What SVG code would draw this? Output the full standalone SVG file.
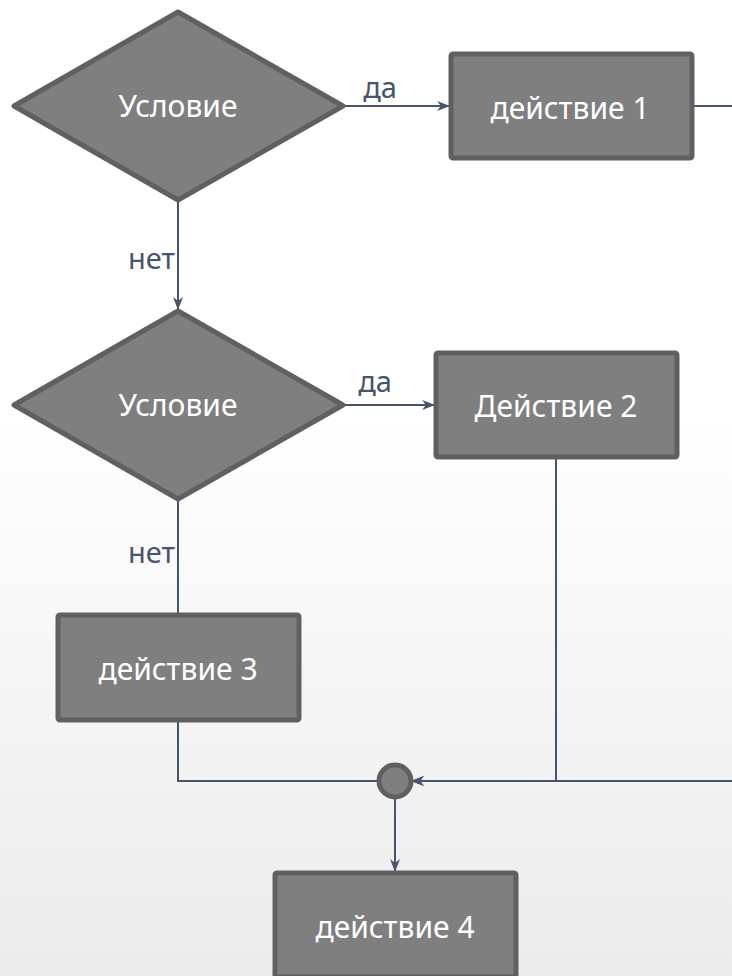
<svg xmlns="http://www.w3.org/2000/svg" width="732" height="976" viewBox="0 0 732 976">
<defs>
<linearGradient id="bg" x1="0" y1="0" x2="0" y2="1">
<stop offset="0" stop-color="#ffffff"/>
<stop offset="0.42" stop-color="#ffffff"/>
<stop offset="1" stop-color="#ebebeb"/>
</linearGradient>
<marker id="arr" viewBox="0 0 13 10" refX="12" refY="5" markerWidth="13" markerHeight="10" markerUnits="userSpaceOnUse" orient="auto">
<path d="M0,0 L13,5 L0,10 L4,5 Z" fill="#46556b"/>
</marker>
<style>
.shape{fill:#7f7f7f;stroke:#606060;stroke-width:5;stroke-linejoin:round}
.txt{font-family:"Noto Sans","Open Sans","DejaVu Sans",sans-serif;font-size:30px;fill:#ffffff;text-anchor:middle}
.lbl{font-family:"Noto Sans","Open Sans","DejaVu Sans",sans-serif;font-size:29px;fill:#46556b}
.con{fill:none;stroke:#46556b;stroke-width:2}
</style>
</defs>
<rect x="0" y="0" width="732" height="976" fill="url(#bg)"/>
<g id="connectors">
<path class="con" d="M345,106 H449" marker-end="url(#arr)"/>
<path class="con" d="M178,202 V309" marker-end="url(#arr)"/>
<path class="con" d="M345,405 H434" marker-end="url(#arr)"/>
<path class="con" d="M178,500 V613"/>
<path class="con" d="M178,722 V781 H379"/>
<path class="con" d="M694,106 H760 V781 H412" marker-end="url(#arr)"/>
<path class="con" d="M556,459 V781 H412" marker-end="url(#arr)"/>
<path class="con" d="M395,798 V871" marker-end="url(#arr)"/>
<text class="lbl" x="380" y="98" text-anchor="middle">да</text>
<text class="lbl" x="175" y="269" text-anchor="end">нет</text>
<text class="lbl" x="375" y="392" text-anchor="middle">да</text>
<text class="lbl" x="175" y="563" text-anchor="end">нет</text>
</g>
<g id="cond1">
<polygon class="shape" points="178,12 343,106 178,200 14,106"/>
<text class="txt" x="178" y="117">Условие</text>
</g>
<g id="action1">
<rect class="shape" x="451" y="54" width="241" height="104" rx="2"/>
<text class="txt" x="570" y="119">действие 1</text>
</g>
<g id="cond2">
<polygon class="shape" points="178,311 343,405 178,499 14,405"/>
<text class="txt" x="178" y="416">Условие</text>
</g>
<g id="action2">
<rect class="shape" x="436" y="353" width="241" height="104" rx="2"/>
<text class="txt" x="556" y="417">Действие 2</text>
</g>
<g id="action3">
<rect class="shape" x="58" y="615" width="241" height="105" rx="2"/>
<text class="txt" x="178" y="680">действие 3</text>
</g>
<g id="junction">
<circle class="shape" cx="395" cy="781" r="16"/>
</g>
<g id="action4">
<rect class="shape" x="275" y="873" width="241" height="104" rx="2"/>
<text class="txt" x="395" y="938">действие 4</text>
</g>
</svg>
